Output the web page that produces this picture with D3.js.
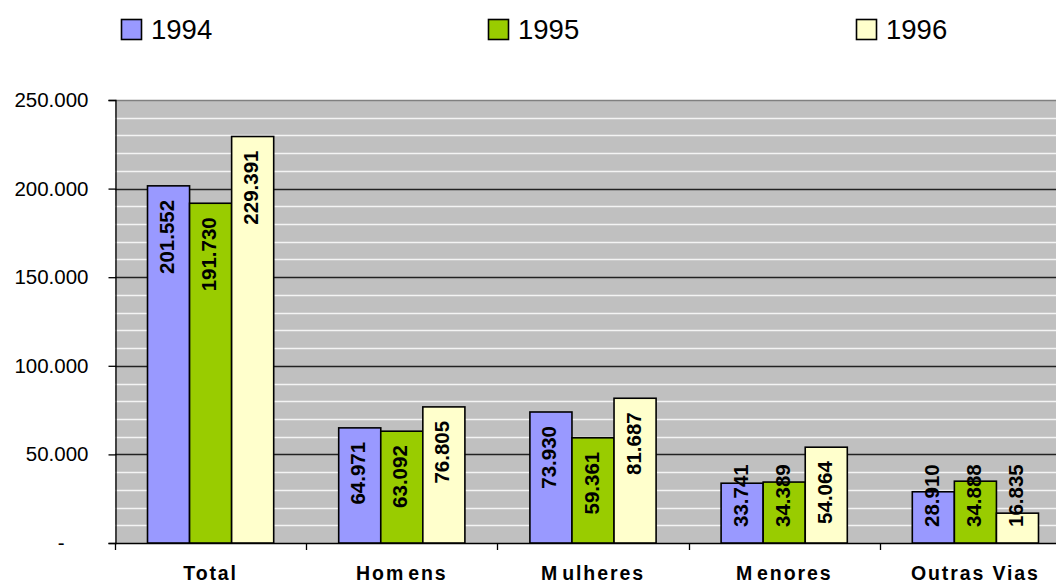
<!DOCTYPE html>
<html>
<head>
<meta charset="utf-8">
<script src="https://cdn.jsdelivr.net/npm/d3@7"></script>
<style>
  html, body { margin: 0; padding: 0; background: #fff; }
  svg { display: block; font-family: Arial, "Liberation Sans", sans-serif; }
</style>
</head>
<body>
<svg id="chart" width="1056" height="582"></svg>
<script>
// Categories and yearly series
const categories = ["Total", "Homens", "Mulheres", "Menores", "Outras Vias"];
const years = ["1994", "1995", "1996"];
const values1994 = [201552, 64971, 73930, 33741, 28910];
const values1995 = [191730, 63092, 59361, 34389, 34888];
const values1996 = [229391, 76805, 81687, 54064, 16835];
const yTicks = [0, 50000, 100000, 150000, 200000, 250000];
const yTickLabels = ["-", "50.000", "100.000", "150.000", "200.000", "250.000"];
const colors = ["#9999FF", "#99CC00", "#FFFFCC"];

const series = [values1994, values1995, values1996];

const svg = d3.select("#chart");
const plotLeft = 115, plotTop = 100, plotBottom = 543;
const bandW = 191.2;
const plotRight = plotLeft + bandW * categories.length;

const y = d3.scaleLinear().domain([0, 250000]).range([plotBottom, plotTop]);
const x0 = d3.scaleBand().domain(categories).range([plotLeft, plotRight]).padding(0);
const groupW = x0.bandwidth() * 0.66;
const x1 = d3.scaleBand().domain(years).range([0, groupW]).padding(0);
const groupOffset = (x0.bandwidth() - groupW) / 2;

// plot background
svg.append("rect").attr("x", plotLeft).attr("y", plotTop)
  .attr("width", plotRight - plotLeft).attr("height", plotBottom - plotTop)
  .attr("fill", "#C0C0C0");

// minor gridlines every 10.000
const minor = d3.range(10000, 250000, 10000).filter(v => v % 50000 !== 0);
svg.append("g").selectAll("line").data(minor).join("line")
  .attr("x1", plotLeft).attr("x2", plotRight)
  .attr("y1", d => Math.round(y(d)) + 0.5).attr("y2", d => Math.round(y(d)) + 0.5)
  .attr("stroke", "#F4F4F4").attr("stroke-width", 1.3);

// major gridlines
svg.append("g").selectAll("line").data(yTicks.filter(v => v > 0)).join("line")
  .attr("x1", plotLeft).attr("x2", plotRight)
  .attr("y1", d => Math.round(y(d)) + 0.5).attr("y2", d => Math.round(y(d)) + 0.5)
  .attr("stroke", d => d === 250000 ? "#808080" : "#222")
  .attr("stroke-width", 1.3);

// y axis
const yAxis = d3.axisLeft(y).tickValues(yTicks).tickSize(7).tickPadding(20)
  .tickFormat((d, i) => yTickLabels[i]);
const gy = svg.append("g").attr("transform", `translate(${plotLeft + 0.5},0)`).call(yAxis);
gy.select(".domain").attr("stroke", "#000").attr("stroke-width", 1.3);
gy.selectAll(".tick line").attr("stroke", "#000").attr("stroke-width", 1.3);
gy.selectAll(".tick text").attr("font-size", 20.5).attr("fill", "#000")
  .attr("font-family", "Arial, 'Liberation Sans', sans-serif");
gy.selectAll(".tick").filter(d => d === 0).select("text").attr("dx", -24);

// x axis line and ticks at band boundaries
svg.append("line").attr("x1", plotLeft).attr("x2", plotRight)
  .attr("y1", plotBottom + 0.5).attr("y2", plotBottom + 0.5)
  .attr("stroke", "#000").attr("stroke-width", 1.3);
const bounds = categories.map(c => x0(c)).concat([plotRight]);
svg.append("g").selectAll("line").data(bounds).join("line")
  .attr("x1", d => Math.round(d) + 0.5).attr("x2", d => Math.round(d) + 0.5)
  .attr("y1", plotBottom).attr("y2", plotBottom + 7)
  .attr("stroke", "#000").attr("stroke-width", 1.3);

// category labels (split so the wide gaps of the rendered labels are kept)
const labelParts = {
  "Total": ["Total"],
  "Homens": ["Hom", "ens"],
  "Mulheres": ["M", "ulheres"],
  "Menores": ["M", "enores"],
  "Outras Vias": ["Outras Vias"]
};
const xl = svg.append("g").selectAll("text").data(categories).join("text")
  .attr("x", d => x0(d) + x0.bandwidth() / 2)
  .attr("y", 579.5)
  .attr("text-anchor", "middle")
  .attr("font-size", 19.5).attr("font-weight", "bold")
  .attr("letter-spacing", 1.9)
  .attr("fill", "#000");
xl.each(function (d) {
  const parts = labelParts[d];
  d3.select(this).selectAll("tspan").data(parts).join("tspan")
    .attr("dx", (p, i) => i > 0 ? 3 : 0)
    .text(p => p);
});

// bars
const groups = svg.append("g").selectAll("g").data(categories).join("g")
  .attr("transform", d => `translate(${x0(d) + groupOffset},0)`);

groups.each(function (cat, ci) {
  const g = d3.select(this);
  years.forEach((yr, si) => {
    const v = series[si][ci];
    g.append("rect")
      .attr("x", x1(yr)).attr("y", y(v))
      .attr("width", x1.bandwidth()).attr("height", y(0) - y(v))
      .attr("fill", colors[si]).attr("stroke", "#000").attr("stroke-width", 1.6);
  });
});

// value labels, rotated, placed below the bar top (kept above the baseline)
groups.each(function (cat, ci) {
  const g = d3.select(this);
  years.forEach((yr, si) => {
    const v = series[si][ci];
    const label = d3.format(",")(v).replace(/,/g, ".");
    const cx = x1(yr) + x1.bandwidth() / 2;
    const t = g.append("text")
      .attr("font-size", 20.5).attr("font-weight", "bold").attr("fill", "#000")
      .attr("text-anchor", "end")
      .attr("dominant-baseline", "central")
      .text(label);
    const len = t.node().getComputedTextLength();
    const topY = Math.min(y(v) + 14, y(0) - 16 - len);
    t.attr("transform", `translate(${cx - 2},${topY}) rotate(-90)`);
  });
});

// legend
const legendX = [121, 488, 856];
const lg = svg.append("g").selectAll("g").data(years).join("g")
  .attr("transform", (d, i) => `translate(${legendX[i]},19)`);
lg.append("rect").attr("x", 0.5).attr("y", 0.5).attr("width", 20).attr("height", 20)
  .attr("fill", (d, i) => colors[i]).attr("stroke", "#000").attr("stroke-width", 1.6);
lg.append("text").attr("x", 30).attr("y", 19.5)
  .attr("font-size", 27.5).attr("fill", "#000").text(d => d);
</script>
</body>
</html>
